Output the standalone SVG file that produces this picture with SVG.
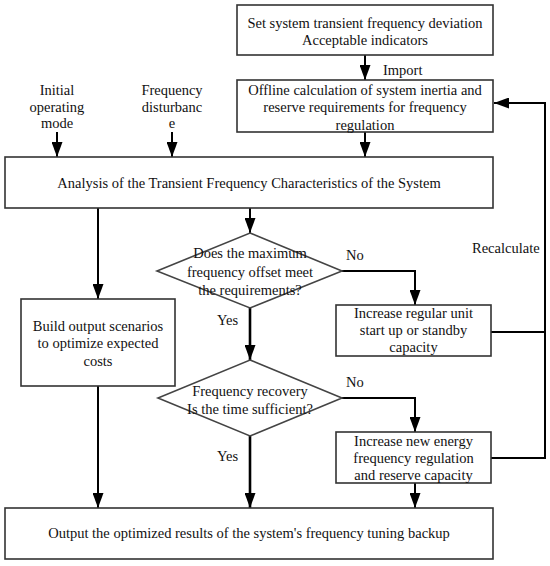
<svg xmlns="http://www.w3.org/2000/svg" width="550" height="566" viewBox="0 0 550 566" font-family="'Liberation Serif','Times New Roman',serif">
<defs>
<style>
text{font-family:"Liberation Serif","Times New Roman",serif;font-size:14.5px;fill:#111;text-anchor:middle;}
.lbl{text-anchor:start;}
.box{fill:#fff;stroke:#333;stroke-width:1.6;}
.dia{fill:#fff;stroke:#444;stroke-width:1.6;}
.ln{fill:none;stroke:#000;stroke-width:2;}
.thk{stroke-width:2.6;}
</style>
<marker id="ah" viewBox="0 0 15 11" refX="15" refY="5.5" markerWidth="15" markerHeight="11" markerUnits="userSpaceOnUse" orient="auto">
<path d="M0,0 L15,5.5 L0,11 z" fill="#000"/>
</marker>
</defs>
<rect width="550" height="566" fill="#fff"/>
<g id="connectors">
<path class="ln" d="M365,55 V80" marker-end="url(#ah)"/>
<path class="ln" d="M365,132 V157" marker-end="url(#ah)"/>
<path class="ln" d="M57,132 V157" marker-end="url(#ah)"/>
<path class="ln" d="M172,132 V157" marker-end="url(#ah)"/>
<path class="ln" d="M250,208 V233" marker-end="url(#ah)"/>
<path class="ln" d="M98,208 V299" marker-end="url(#ah)"/>
<path class="ln" d="M342,271 H415 V305" marker-end="url(#ah)"/>
<path class="ln thk" d="M250,308 V360" marker-end="url(#ah)"/>
<path class="ln" d="M342,398 H415 V432" marker-end="url(#ah)"/>
<path class="ln thk" d="M250,436 V508" marker-end="url(#ah)"/>
<path class="ln" d="M98,386 V508" marker-end="url(#ah)"/>
<path class="ln" d="M415,483 V508" marker-end="url(#ah)"/>
<path class="ln" d="M491,332 H545"/>
<path class="ln" d="M491,458 H545 V103 H494" marker-end="url(#ah)"/>
<text class="lbl" x="383" y="75">Import</text>
<text class="lbl" x="346" y="260">No</text>
<text class="lbl" x="217" y="325">Yes</text>
<text class="lbl" x="346" y="387">No</text>
<text class="lbl" x="217" y="461">Yes</text>
<text class="lbl" x="472" y="253">Recalculate</text>
</g>
<g id="initial-mode">
<text x="57" y="95">Initial</text>
<text x="57" y="112">operating</text>
<text x="57" y="128">mode</text>
</g>
<g id="freq-disturbance">
<text x="172" y="95">Frequency</text>
<text x="172" y="112">disturbanc</text>
<text x="172" y="128">e</text>
</g>
<g id="set-indicators">
<rect class="box" x="237" y="5" width="256" height="50"/>
<text x="365" y="28">Set system transient frequency deviation</text>
<text x="365" y="45">Acceptable indicators</text>
</g>
<g id="offline-calc">
<rect class="box" x="237" y="80" width="256" height="52"/>
<text x="365" y="95">Offline calculation of system inertia and</text>
<text x="365" y="112">reserve requirements for frequency</text>
<text x="365" y="130">regulation</text>
</g>
<g id="analysis">
<rect class="box" x="5" y="157" width="488" height="51"/>
<text x="249" y="188">Analysis of the Transient Frequency Characteristics of the System</text>
</g>
<g id="decision-max-offset">
<polygon class="dia" points="250,233 342,271 250,308 157,271"/>
<text x="250" y="258">Does the maximum</text>
<text x="250" y="277">frequency offset meet</text>
<text x="250" y="295">the requirements?</text>
</g>
<g id="build-scenarios">
<rect class="box" x="21" y="299" width="154" height="87"/>
<text x="98" y="331">Build output scenarios</text>
<text x="98" y="348">to optimize expected</text>
<text x="98" y="366">costs</text>
</g>
<g id="increase-regular">
<rect class="box" x="336" y="305" width="155" height="51"/>
<text x="413.5" y="318">Increase regular unit</text>
<text x="413.5" y="335">start up or standby</text>
<text x="413.5" y="352">capacity</text>
</g>
<g id="decision-recovery">
<polygon class="dia" points="250,360 342,398 250,436 158,398"/>
<text x="250" y="396">Frequency recovery</text>
<text x="250" y="414">Is the time sufficient?</text>
</g>
<g id="increase-new-energy">
<rect class="box" x="336" y="432" width="155" height="51"/>
<text x="413.5" y="446">Increase new energy</text>
<text x="413.5" y="463">frequency regulation</text>
<text x="413.5" y="480">and reserve capacity</text>
</g>
<g id="output">
<rect class="box" x="5" y="508" width="488" height="51"/>
<text x="249" y="538">Output the optimized results of the system's frequency tuning backup</text>
</g>
</svg>
